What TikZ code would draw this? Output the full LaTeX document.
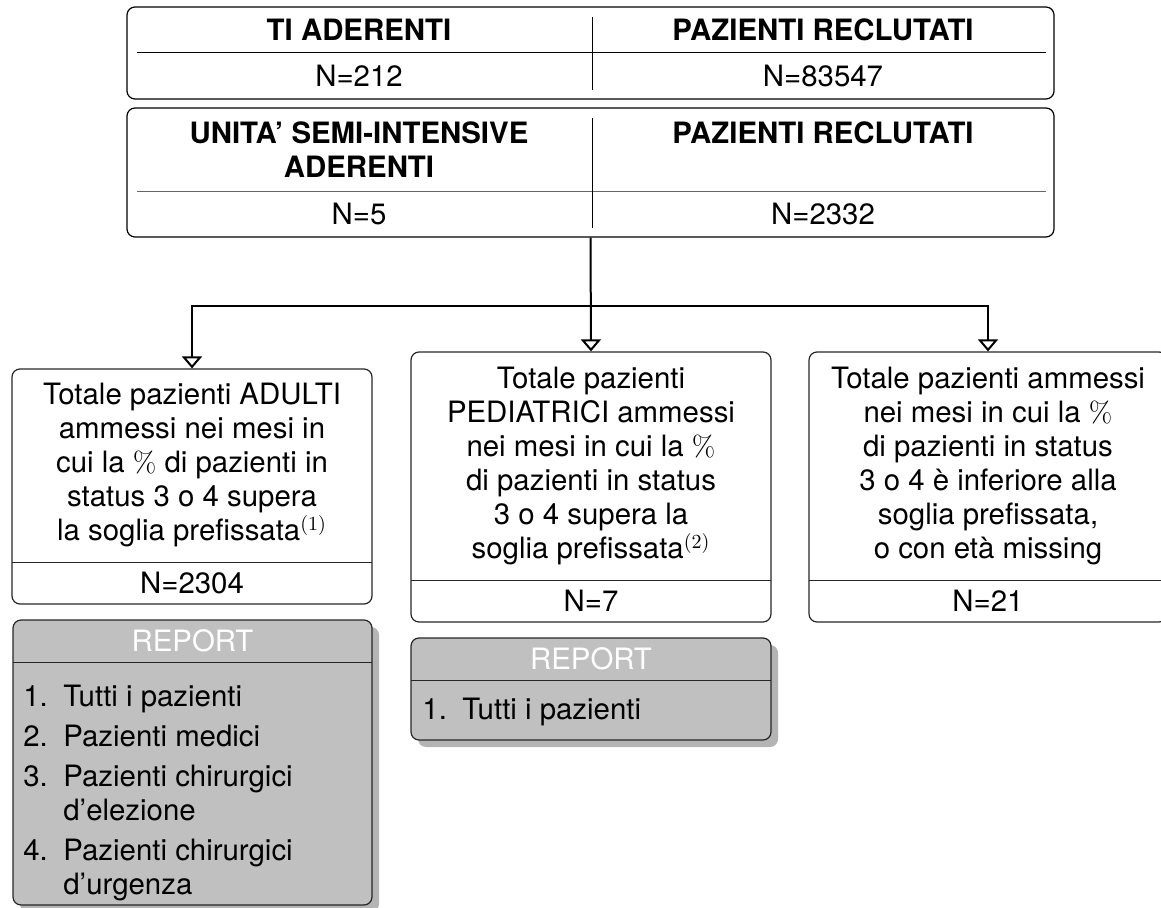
\documentclass[tikz,border=0pt]{standalone}
\usepackage[no-math]{fontspec}
\setmainfont{TeX Gyre Heros}
\usetikzlibrary{arrows.meta,fit,shadows}
\definecolor{repfill}{HTML}{C0C0C0}
\definecolor{shadowgray}{HTML}{B4B4B4}
\begin{document}
\begin{tikzpicture}[x=0.5pt,y=-0.5pt,
  every node/.style={font=\fontsize{14.7}{17}\selectfont, inner sep=0pt},
  bold/.style={font=\fontsize{14.7}{17}\selectfont\bfseries, align=center},
  txt/.style={align=center},
  topbox/.style={draw=black, line width=0.6pt, rounded corners=4pt, inner sep=0pt},
  infobox/.style={draw=black!85, line width=0.6pt, rounded corners=4pt, inner sep=0pt},
  reportbox/.style={draw=black!85, fill=repfill, line width=0.6pt, rounded corners=4pt, inner sep=0pt,
    drop shadow={shadow xshift=3.5pt, shadow yshift=-3.5pt, fill=shadowgray, opacity=1}},
  divline/.style={line width=0.5pt, black},
  conn/.style={line width=1pt, black},
  arr/.style={-{Triangle[open, width=10pt, length=6pt, line width=1pt]}},
  hdr/.style={text=white},
]
\useasboundingbox (0,0) rectangle (1161,908);
\clip (0,0) rectangle (1161,908);

% ---- top box 1
\node[topbox, fit={(127,7) (1054,99)}] (A) {};
\draw[divline] (137,53) -- (1046,53);
\draw[divline] (592,17) -- (592,90);
\node[bold] (a1) at (359,30) {TI ADERENTI};
\node[bold] (a2) at (823,30) {PAZIENTI RECLUTATI};
\node[txt] (a3) at (359,76) {N=212};
\node[txt] (a4) at (823,76) {N=83547};

% ---- top box 2
\node[topbox, fit={(127,108) (1054,237)}] (B) {};
\draw[divline, black!60] (137,192) -- (1046,192);
\draw[divline] (592,118) -- (592,228);
\node[bold] (b1) at (359,150) {UNITA’ SEMI-INTENSIVE\\ADERENTI};
\node[bold] (b2) at (823,133) {PAZIENTI RECLUTATI};
\node[txt] (b3) at (359,214) {N=5};
\node[txt] (b4) at (823,214) {N=2332};

% ---- lower boxes
\node[infobox, fit={(12,369) (372,604)}] (L) {};
\draw[divline, black!85] (12,562) -- (372,562);
\node[txt] (l1) at (192,465) {Totale pazienti ADULTI\\ammessi nei mesi in\\cui la $\%$ di pazienti in\\status 3 o 4 supera\\la soglia prefissata$^{(1)}$};
\node[txt] (l2) at (192,583) {N=2304};

\node[infobox, fit={(411,352) (771,622)}] (M) {};
\draw[divline, black!85] (411,580) -- (771,580);
\node[txt] (m1) at (591,466) {Totale pazienti\\PEDIATRICI ammessi\\nei mesi in cui la $\%$\\di pazienti in status\\3 o 4 supera la\\soglia prefissata$^{(2)}$};
\node[txt] (m2) at (591,601) {N=7};

\node[infobox, fit={(809,352) (1167,622)}] (R) {};
\draw[divline, black!85] (809,580) -- (1167,580);
\node[txt] (r1) at (988,466) {Totale pazienti ammessi\\nei mesi in cui la $\%$\\di pazienti in status\\3 o 4 è inferiore alla\\soglia prefissata,\\o con età missing};
\node[txt] (r2) at (988,601) {N=21};

% ---- connectors
\coordinate (J) at (B.south |- 0,306);
\draw[conn, arr] (B.south) -- (M.north);
\draw[conn, arr] (J) -| (L.north);
\draw[conn, arr] (J) -| (R.north);

% ---- report boxes
\node[reportbox, fit={(13,620) (372,905)}] (LR) {};
\draw[divline, black!85] (13,662) -- (372,662);
\node[hdr] (LRh) at (192.5,641) {REPORT};
\node[anchor=west, align=left] (LRl) at (23,793) {%
\makebox[20pt][l]{1.}Tutti i pazienti\\[3pt]
\makebox[20pt][l]{2.}Pazienti medici\\[3pt]
\makebox[20pt][l]{3.}Pazienti chirurgici\\
\hspace*{20pt}d’elezione\\[3pt]
\makebox[20pt][l]{4.}Pazienti chirurgici\\
\hspace*{20pt}d’urgenza};

\node[reportbox, fit={(411,638) (771,740)}] (MR) {};
\draw[divline, black!85] (411,680) -- (771,680);
\node[hdr] (MRh) at (591,659) {REPORT};
\node[anchor=west, align=left] (MRl) at (422,712) {\makebox[20pt][l]{1.}Tutti i pazienti};
\end{tikzpicture}
\end{document}
